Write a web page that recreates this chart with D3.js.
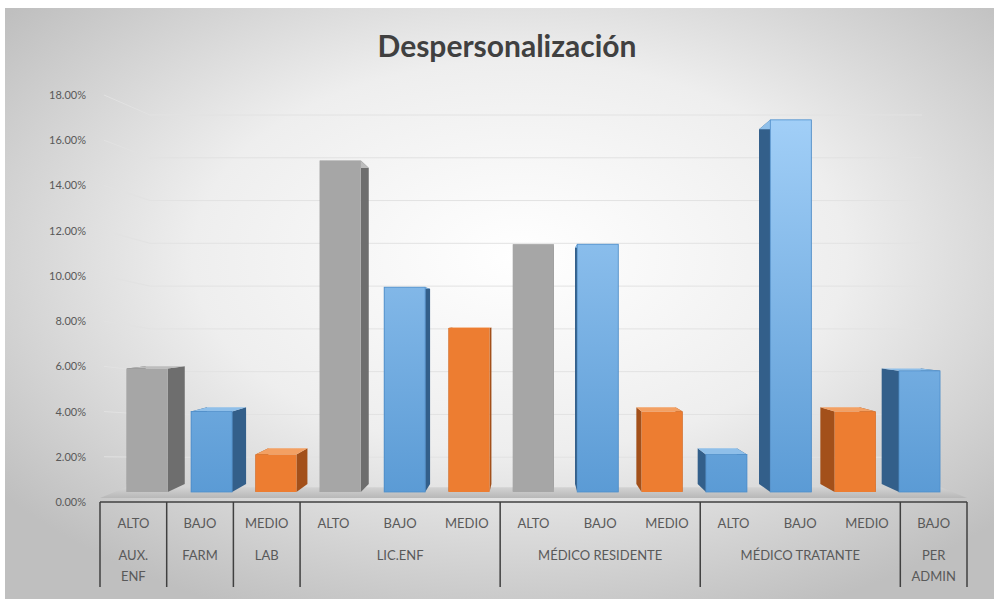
<!DOCTYPE html>
<html>
  <head>
    <meta charset="utf-8">
    <title>Despersonalización</title>
    <script src="https://d3js.org/d3.v7.min.js"></script>
    <style>
      body { margin: 0; background: #fff; }
      text { font-family: Lato, "Open Sans", sans-serif; }
    </style>
  </head>
  <body>
    <svg width="994" height="599"></svg>

  <script>
    // data
    var levels = ["ALTO", "BAJO", "MEDIO", "ALTO", "BAJO", "MEDIO", "ALTO", "BAJO", "MEDIO", "ALTO", "BAJO", "MEDIO", "BAJO"];
    var groups = ["AUX.|ENF", "FARM", "LAB", "LIC.ENF", "LIC.ENF", "LIC.ENF",
                  "MÉDICO RESIDENTE", "MÉDICO RESIDENTE", "MÉDICO RESIDENTE",
                  "MÉDICO TRATANTE", "MÉDICO TRATANTE", "MÉDICO TRATANTE", "PER|ADMIN"];
    var values = [5.9, 4.0, 2.1, 15.1, 9.5, 7.7, 11.4, 11.4, 4.0, 2.1, 16.9, 4.0, 5.8];
    // bar colour as drawn in the original (MÉDICO TRATANTE ALTO is blue there)
    var barColor = ["gris", "azul", "naranja", "gris", "azul", "naranja", "gris", "azul", "naranja", "azul", "azul", "naranja", "azul"];
    var yTicks = [0, 2, 4, 6, 8, 10, 12, 14, 16, 18];

    var svg = d3.select("svg");

    var left = 100, right = 967, axisY = 502, floorY = 492;
    var vp = [530, 320];     // vanishing point for the 3d look
    var depth = 0.047;

    var colors = {
      gris:    { front: "#a6a6a6", side: "#6e6e6e", top: "#bdbdbd" },
      azul:    { front: "url(#blueGrad)", side: "#335f8a", top: "#8fbfe9" },
      naranja: { front: "#ed7d31", side: "#a3501a", top: "#f3a063" }
    };

    var defs = svg.append("defs");
    var bg = defs.append("radialGradient").attr("id", "bgGrad")
      .attr("cx", "52%").attr("cy", "42%").attr("r", "66%");
    bg.append("stop").attr("offset", "0%").attr("stop-color", "#ffffff");
    bg.append("stop").attr("offset", "50%").attr("stop-color", "#eeeeee");
    bg.append("stop").attr("offset", "100%").attr("stop-color", "#bfbfbf");

    var bl = defs.append("linearGradient").attr("id", "blueGrad")
      .attr("gradientUnits", "userSpaceOnUse")
      .attr("x1", 0).attr("x2", 0).attr("y1", 110).attr("y2", 492);
    bl.append("stop").attr("offset", "0%").attr("stop-color", "#a3d0f8");
    bl.append("stop").attr("offset", "100%").attr("stop-color", "#5b9bd5");

    var fl = defs.append("linearGradient").attr("id", "floorGrad")
      .attr("x1", 0).attr("x2", 0).attr("y1", 0).attr("y2", 1);
    fl.append("stop").attr("offset", "0%").attr("stop-color", "#d2d2d2");
    fl.append("stop").attr("offset", "100%").attr("stop-color", "#b8b8b8");

    // chart background
    svg.append("rect")
      .attr("x", 5).attr("y", 8).attr("width", 989).attr("height", 591)
      .attr("fill", "url(#bgGrad)");

    // title
    svg.append("text")
      .attr("x", 507).attr("y", 57)
      .attr("text-anchor", "middle")
      .attr("font-size", "30px")
      .attr("font-weight", "bold")
      .attr("fill", "#404040")
      .text("Despersonalización");

    // scales
    var x = d3.scaleBand().domain(d3.range(values.length)).range([left, right]);
    var y = d3.scaleLinear().domain([0, 18]).range([axisY, 95]);
    var yBack = d3.scaleLinear().domain([0, 18]).range([500, 115]);

    // y axis labels
    var yAxis = svg.append("g")
      .attr("transform", "translate(86,0)")
      .call(d3.axisLeft(y).tickValues(yTicks).tickSize(0).tickPadding(0)
        .tickFormat(function(d) { return d3.format(".2f")(d) + "%"; }));
    yAxis.select(".domain").remove();
    yAxis.selectAll("text")
      .attr("font-size", "11px")
      .attr("fill", "#595959")
      .style("font-family", "Lato, sans-serif");

    // gridlines (bend back to the rear wall)
    svg.append("g").selectAll("path")
      .data(yTicks.slice(1))
      .enter().append("path")
      .attr("d", function(d) {
        return "M" + 104 + "," + y(d) + "L" + 150 + "," + yBack(d) + "L" + 922 + "," + yBack(d);
      })
      .attr("fill", "none")
      .attr("stroke", "#e2e2e2")
      .attr("stroke-width", 1);

    // floor
    function toVp(p, f) {
      return [p[0] + (vp[0] - p[0]) * f, p[1] + (vp[1] - p[1]) * f];
    }
    var fa = [left, 498], fb = [right, 498];
    var fc = toVp(fb, 0.06), fd = toVp(fa, 0.06);
    svg.append("path")
      .attr("d", "M" + [fa, fb, fc, fd].join("L") + "Z")
      .attr("fill", "url(#floorGrad)");

    // bars
    var bars = svg.append("g");
    values.forEach(function(v, i) {
      var c = x(i) + x.bandwidth() / 2;
      c = c + (vp[0] - c) * 0.035;
      var w = 41;
      var x0 = c - w / 2, x1 = c + w / 2, t = y(v), b = floorY;
      var col = colors[barColor[i]];
      var p = [[x0, t], [x1, t], [x1, b], [x0, b]];
      var q = p.map(function(pt) { return toVp(pt, depth); });
      var g = bars.append("g");
      // right side
      g.append("path").attr("d", "M" + [p[1], q[1], q[2], p[2]].join("L") + "Z").attr("fill", col.side);
      // left side
      g.append("path").attr("d", "M" + [p[0], q[0], q[3], p[3]].join("L") + "Z").attr("fill", col.side);
      // top
      g.append("path").attr("d", "M" + [p[0], p[1], q[1], q[0]].join("L") + "Z").attr("fill", col.top);
      // front
      g.append("rect")
        .attr("x", x0).attr("y", t)
        .attr("width", w).attr("height", b - t)
        .attr("fill", col.front)
        .attr("stroke", barColor[i] == "azul" ? "#4f8fcb" : "none")
        .attr("stroke-width", 0.8);
    });

    // category axis with two levels
    var axisG = svg.append("g").attr("stroke", "#404040").attr("stroke-width", 1.5);
    axisG.append("line")
      .attr("x1", left).attr("x2", right).attr("y1", axisY).attr("y2", axisY);

    var spans = [];
    groups.forEach(function(gname, i) {
      if (spans.length && spans[spans.length - 1].name == gname) spans[spans.length - 1].end = i;
      else spans.push({ name: gname, start: i, end: i });
    });

    var seps = [left].concat(spans.map(function(s) { return x(s.end) + x.bandwidth(); }));
    axisG.selectAll("line.sep")
      .data(seps)
      .enter().append("line")
      .attr("class", "sep")
      .attr("x1", function(d) { return d; }).attr("x2", function(d) { return d; })
      .attr("y1", axisY).attr("y2", 587);

    svg.append("g").selectAll("text")
      .data(levels)
      .enter().append("text")
      .attr("x", function(d, i) { return x(i) + x.bandwidth() / 2; })
      .attr("y", 528)
      .attr("text-anchor", "middle")
      .attr("font-size", "13px")
      .attr("fill", "#595959")
      .text(function(d) { return d; });

    var gl = svg.append("g").selectAll("text")
      .data(spans)
      .enter().append("text")
      .attr("x", function(s) { return (x(s.start) + x(s.end) + x.bandwidth()) / 2; })
      .attr("y", 560)
      .attr("text-anchor", "middle")
      .attr("font-size", "13px")
      .attr("fill", "#595959");
    gl.selectAll("tspan")
      .data(function(s) { return s.name.split("|"); })
      .enter().append("tspan")
      .attr("x", function() { return d3.select(this.parentNode).attr("x"); })
      .attr("dy", function(d, i) { return i ? 21 : 0; })
      .text(function(d) { return d; });
  </script>
  </body>
</html>
